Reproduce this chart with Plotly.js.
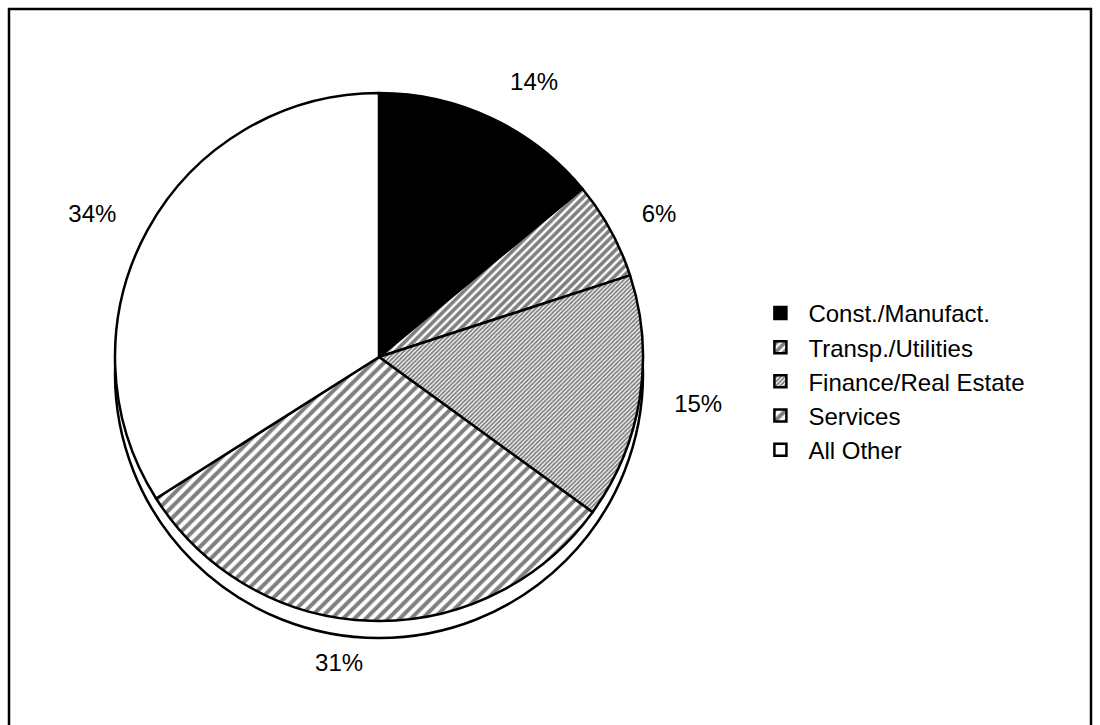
<!DOCTYPE html>
<html>
<head>
<meta charset="utf-8">
<script src="https://cdn.plot.ly/plotly-3.0.1.min.js"></script>
<style>html,body{margin:0;padding:0;background:#fff;}#chart{width:1100px;height:725px;}</style>
</head>
<body>
<div id="chart"></div>
<script>
const categories = ["Const./Manufact.", "Transp./Utilities", "Finance/Real Estate", "Services", "All Other"];
const shares = [14, 6, 15, 31, 34];

const sliceColors = ["#000000", "#ffffff", "#ffffff", "#ffffff", "#ffffff"];
const patternShapes = ["", "/", "/", "/", ""];
const patternSizes = [6, 6, 3, 8, 6];
const patternSolidity = [0.3, 0.6, 0.6, 0.5, 0.3];

const W = 1100, H = 725;
const cx = 379, cy = 357, r = 264;
const labelR = 292;
const FONT = "Liberation Sans, Arial, sans-serif";

const pieTrace = {
  type: "pie",
  labels: categories,
  values: shares,
  sort: false,
  direction: "clockwise",
  rotation: 0,
  textinfo: "none",
  automargin: false,
  hoverinfo: "label+percent",
  marker: {
    colors: sliceColors,
    line: {color: "#000", width: 2.5},
    pattern: {
      shape: patternShapes,
      size: patternSizes,
      solidity: patternSolidity,
      fgcolor: "#000",
      bgcolor: "#fff",
      fillmode: "overlay"
    }
  },
  domain: {
    x: [(cx - r) / W, (cx + r) / W],
    y: [(H - cy - r) / H, (H - cy + r) / H]
  }
};

// transparent companion pie used only to place the percentage labels a bit further out
const labelTrace = {
  type: "pie",
  labels: categories,
  values: shares,
  sort: false,
  direction: "clockwise",
  rotation: 0,
  showlegend: false,
  hoverinfo: "skip",
  textposition: "outside",
  texttemplate: "%{percent:.0%}",
  outsidetextfont: {family: FONT, size: 24, color: "#000"},
  automargin: false,
  marker: {colors: ["rgba(0,0,0,0)", "rgba(0,0,0,0)", "rgba(0,0,0,0)", "rgba(0,0,0,0)", "rgba(0,0,0,0)"],
           line: {width: 0}},
  domain: {
    x: [(cx - labelR) / W, (cx + labelR) / W],
    y: [(H - cy - labelR) / H, (H - cy + labelR) / H]
  }
};

const shadowOff = 17;
const layout = {
  width: W, height: H,
  margin: {l: 0, r: 0, t: 0, b: 0},
  paper_bgcolor: "#fff",
  plot_bgcolor: "#fff",
  showlegend: true,
  legend: {
    x: 0.684, xanchor: "left",
    y: 0.474, yanchor: "middle",
    font: {family: FONT, size: 24, color: "#000"},
    bgcolor: "rgba(0,0,0,0)",
    itemwidth: 46
  },
  shapes: [
    {type: "rect", xref: "paper", yref: "paper",
     x0: 9 / W, x1: 1091 / W, y0: -0.05, y1: 1 - 9 / H,
     line: {color: "#000", width: 2.5}, fillcolor: "rgba(0,0,0,0)", layer: "above"},
    {type: "circle", xref: "paper", yref: "paper",
     x0: (cx - r) / W, x1: (cx + r) / W,
     y0: (H - cy - shadowOff - r) / H, y1: (H - cy - shadowOff + r) / H,
     line: {color: "#000", width: 2.5}, fillcolor: "#fff", layer: "below"}
  ]
};

Plotly.newPlot("chart", [pieTrace, labelTrace], layout, {displayModeBar: false, staticPlot: true});
</script>
</body>
</html>
